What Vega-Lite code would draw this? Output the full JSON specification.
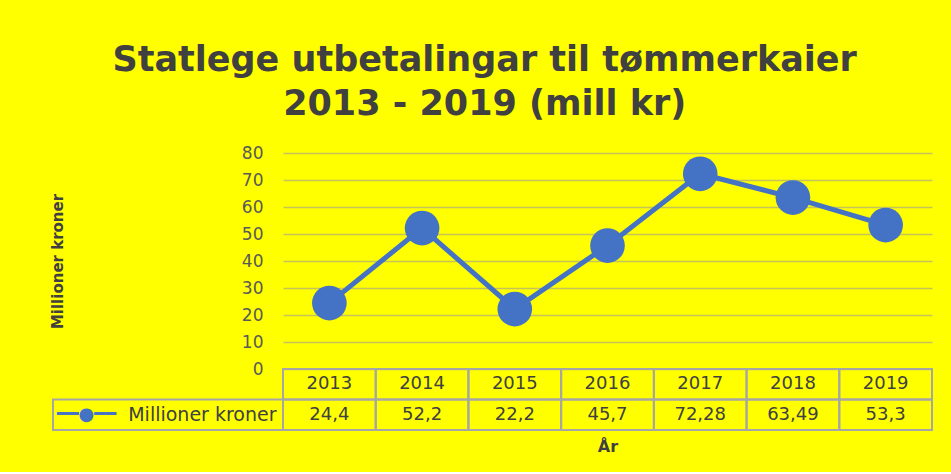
{
  "$schema": "https://vega.github.io/schema/vega-lite/v6.json",
  "background": "#FFFF00",
  "padding": {"left": 50, "top": 43, "right": 18, "bottom": 18},
  "title": {
    "text": ["Statlege utbetalingar til tømmerkaier", "2013 - 2019 (mill kr)"],
    "font": "DejaVu Sans",
    "fontSize": 35,
    "fontWeight": "bold",
    "color": "#404040",
    "anchor": "middle",
    "lineHeight": 44,
    "offset": 22,
    "dx": -7
  },
  "datasets": {
    "d": [
      {"year": "2013", "value": 24.4},
      {"year": "2014", "value": 52.2},
      {"year": "2015", "value": 22.2},
      {"year": "2016", "value": 45.7},
      {"year": "2017", "value": 72.28},
      {"year": "2018", "value": 63.49},
      {"year": "2019", "value": 53.3}
    ]
  },
  "config": {
    "view": {"stroke": null},
    "font": "DejaVu Sans",
    "locale": {"number": {"decimal": ",", "thousands": " ", "grouping": [3], "currency": ["", " kr"]}}
  },
  "bounds": "flush",
  "spacing": 0,
  "align": "each",
  "columns": 2,
  "concat": [
    {
      "width": 230,
      "height": 216,
      "data": {"values": [{"k": "blank"}]},
      "mark": {"type": "text"},
      "encoding": {"text": {"value": ""}}
    },
    {
      "width": 649,
      "height": 216,
      "data": {"name": "d"},
      "encoding": {
        "x": {"field": "year", "type": "ordinal", "axis": null, "scale": {"type": "point", "padding": 0.5}},
        "y": {
          "field": "value",
          "type": "quantitative",
          "scale": {"domain": [0, 80], "nice": false},
          "axis": {
            "values": [0, 10, 20, 30, 40, 50, 60, 70, 80],
            "ticks": false,
            "domain": false,
            "labelFontSize": 17,
            "labelColor": "#595959",
            "labelPadding": 20,
            "gridColor": "#c4c45a",
            "gridWidth": 1.5,
            "title": "Millioner kroner",
            "titleFontSize": 15,
            "titleFontWeight": "bold",
            "titleColor": "#404040",
            "titlePadding": 176
          }
        }
      },
      "layer": [
        {"mark": {"type": "line", "color": "#4472C4", "strokeWidth": 5}},
        {"mark": {"type": "point", "filled": true, "color": "#4472C4", "opacity": 1, "size": 1200}}
      ]
    },
    {
      "width": 230,
      "height": 61,
      "data": {"values": [{"k": "legend"}]},
      "layer": [
        {
          "mark": {"type": "rect", "fill": "transparent", "stroke": "#A6A6A6", "strokeWidth": 2},
          "encoding": {
            "y": {"datum": "V", "type": "nominal", "scale": {"domain": ["Y", "V"], "paddingInner": 0, "paddingOuter": 0}, "axis": null}
          }
        },
        {
          "mark": {"type": "text", "font": "DejaVu Sans", "fontSize": 18, "color": "#4472C4", "align": "right", "baseline": "middle", "dx": -52},
          "encoding": {
            "y": {"datum": "V", "type": "nominal"},
            "text": {"value": "━━●━━"}
          }
        }
      ]
    },
    {
      "width": 649,
      "height": 61,
      "data": {"name": "d"},
      "encoding": {
        "x": {
          "field": "year",
          "type": "ordinal",
          "scale": {"type": "band", "paddingInner": 0, "paddingOuter": 0},
          "axis": {
            "labels": false,
            "ticks": false,
            "domain": false,
            "grid": false,
            "title": "År",
            "titleFontWeight": "bold",
            "titleFontSize": 16,
            "titleColor": "#404040",
            "titlePadding": 8
          }
        }
      },
      "layer": [
        {
          "mark": {"type": "rect", "fill": "transparent", "stroke": "#A6A6A6", "strokeWidth": 2},
          "encoding": {
            "y": {
              "datum": "Y",
              "type": "nominal",
              "scale": {"domain": ["Y", "V"], "paddingInner": 0, "paddingOuter": 0},
              "axis": {
                "labelExpr": "datum.value == 'V' ? 'Millioner kroner' : ''",
                "ticks": false,
                "domain": false,
                "grid": false,
                "title": null,
                "labelFontSize": 19,
                "labelColor": "#404040",
                "labelPadding": 7
              }
            }
          }
        },
        {
          "mark": {"type": "rect", "fill": "transparent", "stroke": "#A6A6A6", "strokeWidth": 2},
          "encoding": {"y": {"datum": "V", "type": "nominal"}}
        },
        {
          "mark": {"type": "text", "fontSize": 18, "color": "#404040", "baseline": "middle"},
          "encoding": {"y": {"datum": "Y", "type": "nominal"}, "text": {"field": "year", "type": "nominal"}}
        },
        {
          "mark": {"type": "text", "fontSize": 18, "color": "#404040", "baseline": "middle"},
          "encoding": {"y": {"datum": "V", "type": "nominal"}, "text": {"field": "value", "type": "quantitative"}}
        }
      ]
    }
  ]
}
